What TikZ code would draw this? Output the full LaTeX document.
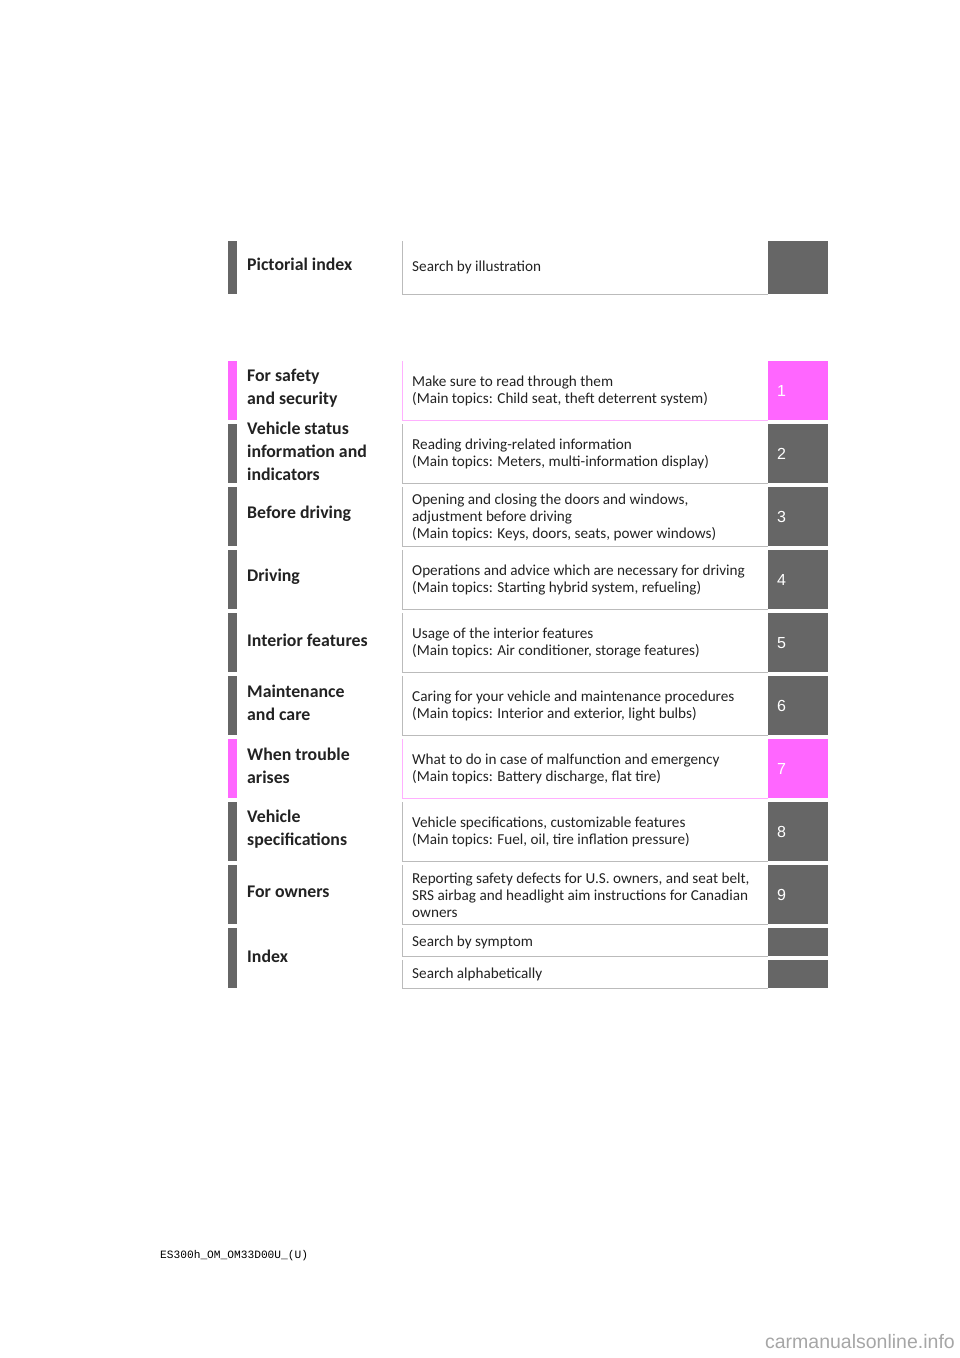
\documentclass[tikz,border=0pt]{standalone}
\usepackage{fontspec}
\setmainfont{Carlito}
\newfontfamily\footfont{Liberation Mono}
\newfontfamily\numfont{Liberation Sans}
\usetikzlibrary{positioning}
\definecolor{tabgray}{HTML}{666666}
\definecolor{tabpink}{HTML}{FF66FF}
\definecolor{linegray}{HTML}{BBBBBB}
\definecolor{linepink}{HTML}{FFB0FF}
\definecolor{inkgray}{HTML}{222222}
\tikzset{
  bar/.style={fill=#1, minimum width=9pt, minimum height=59pt, inner sep=0pt, anchor=north west},
  tab/.style={fill=#1, minimum width=60pt, minimum height=59pt, inner sep=0pt, anchor=north west},
  descbox/.style={minimum width=366pt, minimum height=59pt, inner sep=0pt, anchor=north west},
  boxline/.style={draw=#1, line width=1pt},
  head/.style={anchor=west, align=left, inner sep=0pt, text=inkgray, font=\fontsize{17.8}{23}\selectfont\bfseries},
  desc/.style={anchor=west, align=left, inner sep=0pt, text=inkgray, font=\fontsize{15.2}{17}\selectfont},
  num/.style={anchor=west, inner sep=0pt, text=white, font=\numfont\fontsize{16}{17}\selectfont}
}
% one chapter row: number, tab colour, line colour, heading, description
\newcommand\chapterrow[5]{%
  \pgfmathsetmacro{\rowtop}{361+63*(#1-1)}
  \node[bar=#2] (bar-#1) at (228,\rowtop) {};
  \node[head] (head-#1) at (247,\rowtop+27) {#4};
  \node[descbox] (box-#1) at (402,\rowtop) {};
  \draw[boxline=#3] (box-#1.north west) |- (box-#1.south east);
  \node[desc] (desc-#1) at (412,\rowtop+30) {#5};
  \node[tab=#2] (tab-#1) at (768,\rowtop) {};
  \node[num] (num-#1) at ([xshift=9pt]tab-#1.west) {#1};
}
\begin{document}
\begin{tikzpicture}[x=1pt, y=-1pt]
  \useasboundingbox (0,0) rectangle (960,1358);
  % pictorial index
  \node[bar=tabgray, minimum height=53pt] (bar-0) at (228,241) {};
  \node[head] (head-0) at (247,264) {Pictorial index};
  \node[descbox, minimum height=53pt] (box-0) at (402,241) {};
  \draw[boxline=linegray] (box-0.north west) |- (box-0.south east);
  \node[desc] (desc-0) at (412,267) {Search by illustration};
  \node[tab=tabgray, minimum height=53pt] (tab-0) at (768,241) {};
  % chapters
  \chapterrow{1}{tabpink}{linepink}{For safety\\and security}{Make sure to read through them\\(Main topics: Child seat, theft deterrent system)}
  \chapterrow{2}{tabgray}{linegray}{Vehicle status\\information and\\indicators}{Reading driving-related information\\(Main topics: Meters, multi-information display)}
  \chapterrow{3}{tabgray}{linegray}{Before driving}{Opening and closing the doors and windows,\\adjustment before driving\\(Main topics: Keys, doors, seats, power windows)}
  \chapterrow{4}{tabgray}{linegray}{Driving}{Operations and advice which are necessary for driving\\(Main topics: Starting hybrid system, refueling)}
  \chapterrow{5}{tabgray}{linegray}{Interior features}{Usage of the interior features\\(Main topics: Air conditioner, storage features)}
  \chapterrow{6}{tabgray}{linegray}{Maintenance\\and care}{Caring for your vehicle and maintenance procedures\\(Main topics: Interior and exterior, light bulbs)}
  \chapterrow{7}{tabpink}{linepink}{When trouble\\arises}{What to do in case of malfunction and emergency\\(Main topics: Battery discharge, flat tire)}
  \chapterrow{8}{tabgray}{linegray}{Vehicle\\specifications}{Vehicle specifications, customizable features\\(Main topics: Fuel, oil, tire inflation pressure)}
  \chapterrow{9}{tabgray}{linegray}{For owners}{Reporting safety defects for U.S. owners, and seat belt,\\SRS airbag and headlight aim instructions for Canadian\\owners}
  % index
  \node[bar=tabgray, minimum height=60pt] (bar-10) at (228,928) {};
  \node[head] (head-10) at (247,956) {Index};
  \node[descbox, minimum height=28pt] (box-10a) at (402,928) {};
  \draw[boxline=linegray] (box-10a.north west) |- (box-10a.south east);
  \node[desc] (desc-10a) at (412,942) {Search by symptom};
  \node[tab=tabgray, minimum height=28pt] (tab-10a) at (768,928) {};
  \node[descbox, minimum height=28pt] (box-10b) at (402,960) {};
  \draw[boxline=linegray] (box-10b.north west) |- (box-10b.south east);
  \node[desc] (desc-10b) at (412,974) {Search alphabetically};
  \node[tab=tabgray, minimum height=28pt] (tab-10b) at (768,960) {};
  % footer
  \node[anchor=west, inner sep=0pt, font=\footfont\fontsize{11.2}{13}\selectfont] (foot) at (160,1256) {ES300h\_OM\_OM33D00U\_(U)};
  \node[anchor=east, inner sep=0pt, text=black!35, font=\numfont\fontsize{19.5}{24}\selectfont] (mark) at (955,1342) {carmanualsonline.info};
\end{tikzpicture}
\end{document}
